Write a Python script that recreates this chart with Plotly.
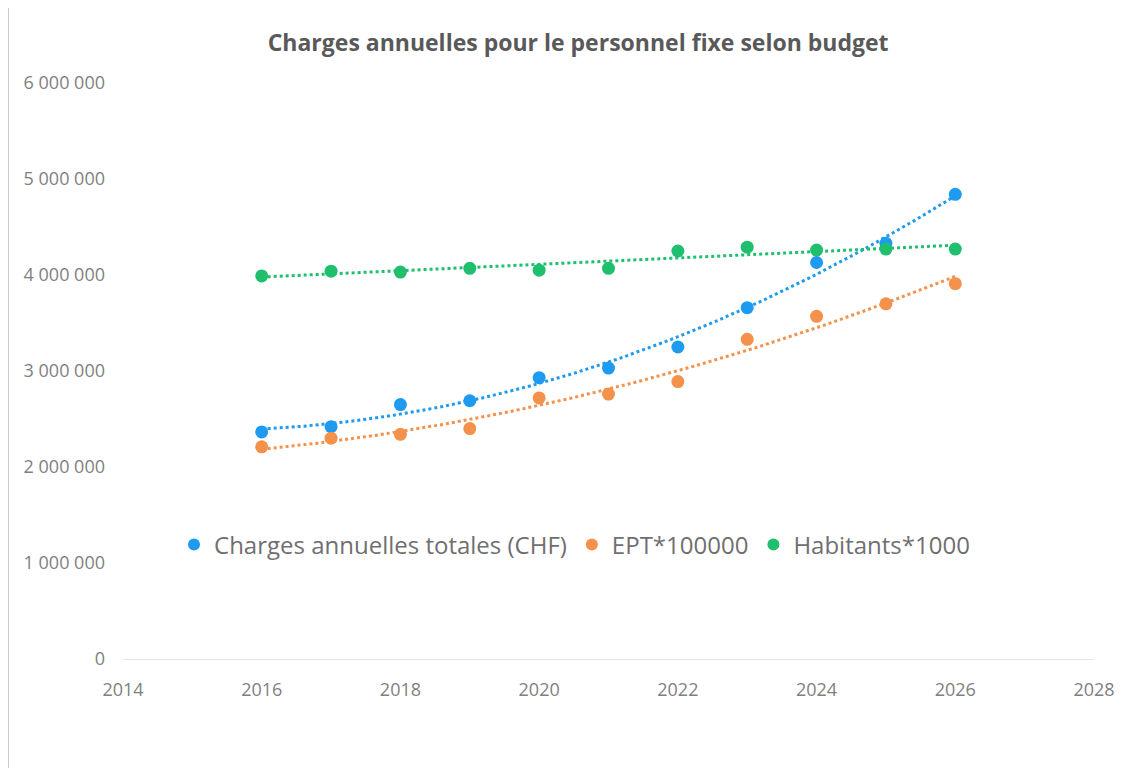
import numpy as np
import plotly.graph_objects as go

years = [2016, 2017, 2018, 2019, 2020, 2021, 2022, 2023, 2024, 2025, 2026]
charges = [2365000, 2420000, 2650000, 2690000, 2930000, 3030000, 3250000, 3660000, 4130000, 4330000, 4840000]
ept = [2210000, 2300000, 2340000, 2400000, 2720000, 2760000, 2890000, 3330000, 3570000, 3700000, 3910000]
habitants = [3990000, 4040000, 4030000, 4070000, 4050000, 4070000, 4250000, 4290000, 4260000, 4270000, 4270000]

y_ticks = [0, 1000000, 2000000, 3000000, 4000000, 5000000, 6000000]
y_labels = ["0", "1 000 000", "2 000 000", "3 000 000", "4 000 000", "5 000 000", "6 000 000"]
x_ticks = [2014, 2016, 2018, 2020, 2022, 2024, 2026, 2028]

names = ["Charges annuelles totales (CHF)", "EPT*100000", "Habitants*1000"]
colors = ["#1E9BF0", "#F4914A", "#1FBF6E"]
series = [charges, ept, habitants]
fit_deg = [2, 2, 1]

fig = go.Figure()
xs = np.linspace(years[0], years[-1], 200)
for name, col, ys, deg in zip(names, colors, series, fit_deg):
    coef = np.polyfit(years, ys, deg)
    fig.add_trace(go.Scatter(x=xs, y=np.polyval(coef, xs), mode="lines",
                             line=dict(color=col, width=3, dash="dot"),
                             showlegend=False, hoverinfo="skip"))
for name, col, ys in zip(names, colors, series):
    fig.add_trace(go.Scatter(x=years, y=ys, mode="markers", name=name,
                             marker=dict(color=col, size=13)))

fig.update_layout(
    width=1129, height=768,
    paper_bgcolor="white", plot_bgcolor="white",
    margin=dict(l=115, r=43, t=75, b=117),
    title=dict(text="<b>Charges annuelles pour le personnel fixe selon budget</b>",
               x=0.505, xanchor="center", y=0.954, yanchor="middle",
               font=dict(family="Open Sans", size=23, color="#595959")),
    font=dict(family="Open Sans", color="#7F7F7F"),
    legend=dict(orientation="h", x=0.465, xanchor="center", y=0.198, yanchor="middle",
                font=dict(size=24, color="#6F6F6F"), bgcolor="rgba(0,0,0,0)",
                itemsizing="constant"),
    xaxis=dict(range=[2014, 2028], tickvals=x_ticks, showgrid=False, zeroline=False,
               showline=True, linecolor="#E4E4E4", linewidth=1,
               tickfont=dict(size=18, color="#7F7F7F"), ticks="", ticklabelstandoff=14),
    yaxis=dict(range=[0, 6000000], tickvals=y_ticks, ticktext=y_labels, showgrid=False,
               zeroline=False, showline=False, tickfont=dict(size=18, color="#7F7F7F"),
               ticks="", ticklabelstandoff=17),
    shapes=[dict(type="line", xref="paper", yref="paper", x0=-0.1184, x1=-0.1184, y0=-0.19, y1=1.13,
                 line=dict(color="#BDBDBD", width=1.5))],
)

fig.write_html("out.html")
